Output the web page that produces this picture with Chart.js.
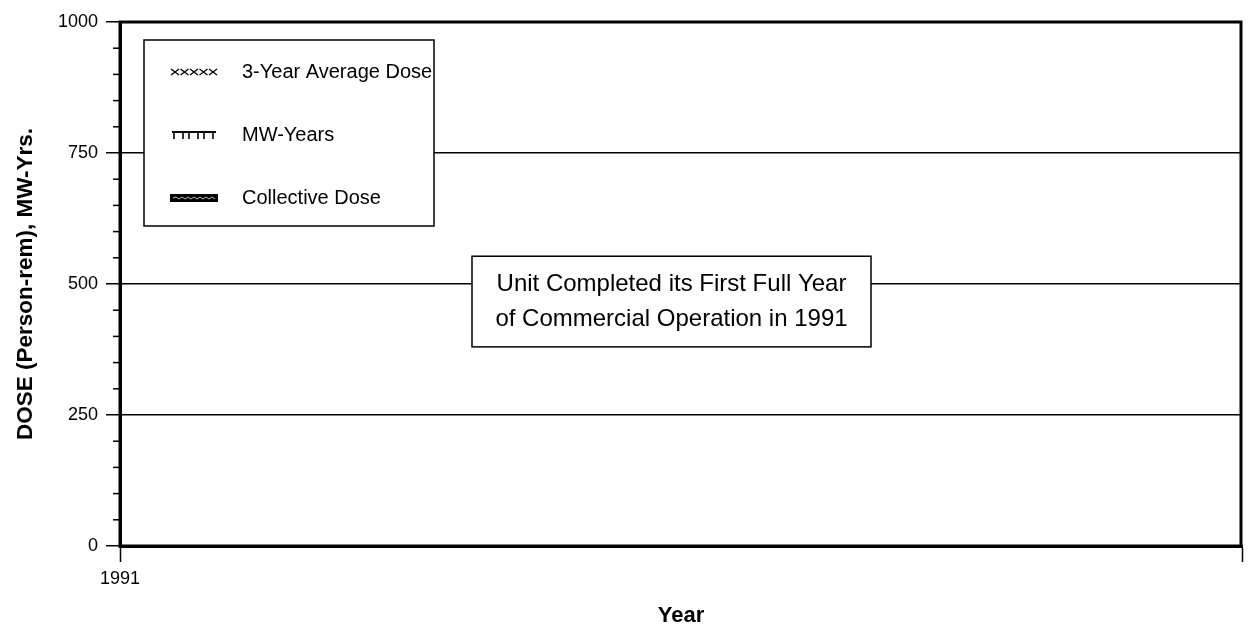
<!DOCTYPE html>
<html>
<head>
<meta charset="utf-8">
<script src="https://cdn.jsdelivr.net/npm/chart.js@4.4.1/dist/chart.umd.min.js"></script>
<style>
  body { margin: 0; background: #fff; }
</style>
</head>
<body>
<canvas id="doseChart" width="1248" height="629"></canvas>
<script>
// x categories - only the first year is labelled
const years = ["1991", ""];
// no values plotted yet for this unit
const avgDose = [null, null];
const mwYears = [null, null];
const collectiveDose = [null, null];
const yTicks = [0, 250, 500, 750, 1000];
const noteLines = ["Unit Completed its First Full Year", "of Commercial Operation in 1991"];

const FONT = '"Liberation Sans", Arial, sans-serif';

function drawSymbol(ctx, kind, x, y) {
  //little legend marks, 48px wide
  ctx.strokeStyle = "#000";
  ctx.fillStyle = "#000";
  if (kind === "cross") {
    ctx.lineWidth = 1.3;
    for (let i = 0; i < 5; i++) {
      const cx = x + 5 + i * 9.5;
      ctx.beginPath();
      ctx.moveTo(cx - 4, y - 3); ctx.lineTo(cx + 4, y + 3);
      ctx.moveTo(cx + 4, y - 3); ctx.lineTo(cx - 4, y + 3);
      ctx.stroke();
    }
  } else if (kind === "arch") {
    ctx.lineWidth = 2;
    ctx.beginPath();
    ctx.moveTo(x + 2, y - 3); ctx.lineTo(x + 46, y - 3);
    ctx.stroke();
    ctx.lineWidth = 1.6;
    [4, 13, 19, 28, 34, 43].forEach((d) => {
      ctx.beginPath();
      ctx.moveTo(x + d, y - 3); ctx.lineTo(x + d, y + 4);
      ctx.stroke();
    });
  } else {
    ctx.fillRect(x, y - 4, 48, 8);
    ctx.strokeStyle = "#bbb";
    ctx.lineWidth = 1;
    ctx.beginPath();
    ctx.moveTo(x + 3, y);
    for (let i = 0; i < 14; i++) ctx.lineTo(x + 6 + i * 3, y + (i % 2 ? 1 : -1));
    ctx.stroke();
  }
}

const minorTicks = {
  id: "minorTicks",
  afterDraw(chart) {
    const { ctx, chartArea } = chart;
    const y = chart.scales.y;
    ctx.save();
    ctx.strokeStyle = "#000";
    ctx.lineWidth = 1.5;
    for (let v = 50; v < 1000; v += 50) {
      if (v % 250 === 0) continue;
      const py = y.getPixelForValue(v);
      ctx.beginPath();
      ctx.moveTo(chartArea.left - 7, py);
      ctx.lineTo(chartArea.left, py);
      ctx.stroke();
    }
    // frame round the plot
    ctx.lineWidth = 3;
    ctx.strokeRect(chartArea.left, chartArea.top, chartArea.right - chartArea.left - 1, chartArea.bottom - chartArea.top);
    ctx.restore();
  }
};

const boxes = {
  id: "boxes",
  afterDatasetsDraw(chart) {
    const { ctx, chartArea } = chart;
    const ys = chart.scales.y;
    ctx.save();
    // legend box
    const lx = chartArea.left + 24, ly = chartArea.top + 18, lw = 290, lh = 186;
    ctx.fillStyle = "#fff";
    ctx.fillRect(lx, ly, lw, lh);
    ctx.strokeStyle = "#000";
    ctx.lineWidth = 1.5;
    ctx.strokeRect(lx, ly, lw, lh);
    chart.data.datasets.forEach((ds, i) => {
      const cy = ly + 32 + i * 63;
      drawSymbol(ctx, ds.symbol, lx + 26, cy);
      ctx.fillStyle = "#000";
      ctx.font = "20px " + FONT;
      ctx.textAlign = "left";
      ctx.textBaseline = "middle";
      ctx.fillText(ds.label, lx + 98, cy);
    });
    // note box
    const nx = chartArea.left + 352, nw = 399;
    const ny = ys.getPixelForValue(553), nb = ys.getPixelForValue(380);
    ctx.fillStyle = "#fff";
    ctx.fillRect(nx, ny, nw, nb - ny);
    ctx.strokeStyle = "#000";
    ctx.lineWidth = 1.5;
    ctx.strokeRect(nx, ny, nw, nb - ny);
    ctx.fillStyle = "#000";
    ctx.font = "24px " + FONT;
    ctx.textAlign = "center";
    ctx.textBaseline = "middle";
    noteLines.forEach((t, i) => ctx.fillText(t, nx + nw / 2, ny + 28 + i * 35));
    ctx.restore();
  }
};

new Chart(document.getElementById("doseChart"), {
  type: "line",
  data: {
    labels: years,
    datasets: [
      { label: "3-Year Average Dose", data: avgDose, symbol: "cross", borderColor: "#000" },
      { label: "MW-Years", data: mwYears, symbol: "arch", borderColor: "#000" },
      { label: "Collective Dose", data: collectiveDose, symbol: "bar", type: "bar", backgroundColor: "#000" },
    ],
  },
  options: {
    responsive: false,
    animation: false,
    layout: { padding: { top: 22, right: 3, left: 0, bottom: 0 } },
    plugins: { legend: { display: false }, tooltip: { enabled: false } },
    scales: {
      x: {
        offset: false,
        afterFit: (s) => { s.height = 83; },
        grid: { offset: false, drawOnChartArea: false, color: "#000", tickColor: "#000", tickLength: 16, tickWidth: 1.5 },
        border: { color: "#000", width: 3 },
        ticks: { color: "#000", font: { family: FONT, size: 18 }, padding: 6, maxRotation: 0 },
        title: { display: true, text: "Year", color: "#000", font: { family: FONT, size: 22, weight: "bold" }, padding: { top: 0, bottom: 0 } },
      },
      y: {
        min: 0,
        max: 1000,
        afterFit: (s) => { s.width = 120; },
        afterBuildTicks: (s) => { s.ticks = yTicks.map((v) => ({ value: v })); },
        grid: { color: "#000", lineWidth: 1.5, tickColor: "#000", tickLength: 14, tickWidth: 1.5 },
        border: { color: "#000", width: 3 },
        ticks: { color: "#000", font: { family: FONT, size: 18 }, padding: 8, callback: (v) => String(v) },
        title: { display: true, text: "DOSE (Person-rem), MW-Yrs.", color: "#000", font: { family: FONT, size: 22.5, weight: "bold" }, padding: { top: 12, bottom: 0 } },
      },
    },
  },
  plugins: [boxes, minorTicks],
});
</script>
</body>
</html>
